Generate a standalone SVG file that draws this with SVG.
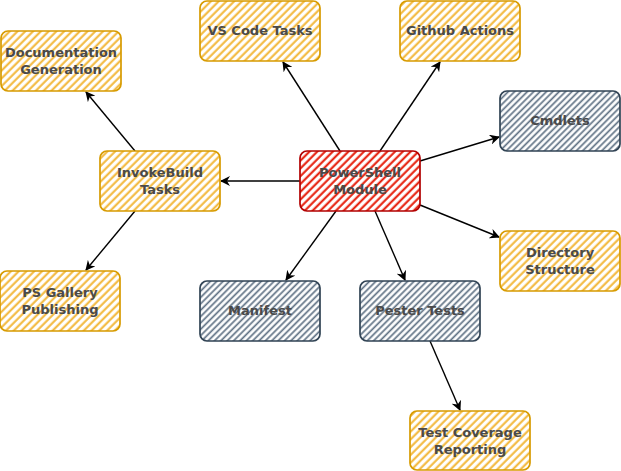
<svg xmlns="http://www.w3.org/2000/svg" width="621" height="471" viewBox="0 0 621 471">
<style>
.n{stroke-width:1.7}
.o{fill:url(#ho);stroke:#d79b00}
.r{fill:url(#hr);stroke:#b20000}
.g{fill:url(#hg);stroke:#314354}
text{font-family:"DejaVu Sans","Liberation Sans",sans-serif;font-weight:bold;font-size:13px;fill:#4a4a4a;text-anchor:middle;dominant-baseline:central}
.e{stroke:#000;stroke-width:1.4;fill:none;marker-end:url(#a)}
</style>
<defs>
<pattern id="ho" width="5.5" height="5.5" patternUnits="userSpaceOnUse" patternTransform="rotate(45)"><rect width="5.5" height="5.5" fill="#fff"/><line x1="1.5" y1="0" x2="1.5" y2="5.5" stroke="#f2b533" stroke-width="2"/></pattern>
<pattern id="hr" width="5.5" height="5.5" patternUnits="userSpaceOnUse" patternTransform="rotate(45)"><rect width="5.5" height="5.5" fill="#fff"/><line x1="1.5" y1="0" x2="1.5" y2="5.5" stroke="#e51400" stroke-width="2"/></pattern>
<pattern id="hg" width="4.5" height="4.5" patternUnits="userSpaceOnUse" patternTransform="rotate(45)"><rect width="4.5" height="4.5" fill="#fff"/><line x1="1.2" y1="0" x2="1.2" y2="4.5" stroke="#5f7184" stroke-width="1.7"/></pattern>
<marker id="a" viewBox="0 0 10 10" refX="9" refY="5" markerWidth="10" markerHeight="10" markerUnits="userSpaceOnUse" orient="auto"><path d="M0,0 L10,5 L0,10 L3,5 Z" fill="#000"/></marker>
</defs>
<g id="connectors">
<line class="e" x1="340" y1="151" x2="283" y2="62"/>
<line class="e" x1="380" y1="151" x2="440" y2="62"/>
<line class="e" x1="420" y1="161" x2="499" y2="137"/>
<line class="e" x1="420" y1="205" x2="499" y2="237"/>
<line class="e" x1="336" y1="211" x2="286" y2="280"/>
<line class="e" x1="375" y1="211" x2="405" y2="280"/>
<line class="e" x1="300" y1="181" x2="221" y2="181"/>
<line class="e" x1="135" y1="151" x2="86" y2="92"/>
<line class="e" x1="135" y1="211" x2="86" y2="270"/>
<line class="e" x1="430" y1="341" x2="460" y2="410"/>
</g>
<g id="doc"><rect class="n o" x="1" y="31" width="120" height="60" rx="7"/><text x="61" y="52">Documentation</text><text x="61" y="69">Generation</text></g>
<g id="vscode"><rect class="n o" x="200" y="1" width="120" height="60" rx="7"/><text x="260" y="30">VS Code Tasks</text></g>
<g id="github"><rect class="n o" x="400" y="1" width="120" height="60" rx="7"/><text x="460" y="30">Github Actions</text></g>
<g id="cmdlets"><rect class="n g" x="500" y="91" width="120" height="60" rx="7"/><text x="560" y="120">Cmdlets</text></g>
<g id="invokebuild"><rect class="n o" x="100" y="151" width="120" height="60" rx="7"/><text x="160" y="172">InvokeBuild</text><text x="160" y="189">Tasks</text></g>
<g id="module"><rect class="n r" x="300" y="151" width="120" height="60" rx="7"/><text x="360" y="172">PowerShell</text><text x="360" y="189">Module</text></g>
<g id="directory"><rect class="n o" x="500" y="231" width="120" height="60" rx="7"/><text x="560" y="252">Directory</text><text x="560" y="269">Structure</text></g>
<g id="gallery"><rect class="n o" x="0" y="271" width="120" height="60" rx="7"/><text x="60" y="292">PS Gallery</text><text x="60" y="309">Publishing</text></g>
<g id="manifest"><rect class="n g" x="200" y="281" width="120" height="60" rx="7"/><text x="260" y="310">Manifest</text></g>
<g id="pester"><rect class="n g" x="360" y="281" width="120" height="60" rx="7"/><text x="420" y="310">Pester Tests</text></g>
<g id="coverage"><rect class="n o" x="410" y="411" width="120" height="59" rx="7"/><text x="470" y="432">Test Coverage</text><text x="470" y="449">Reporting</text></g>
</svg>
